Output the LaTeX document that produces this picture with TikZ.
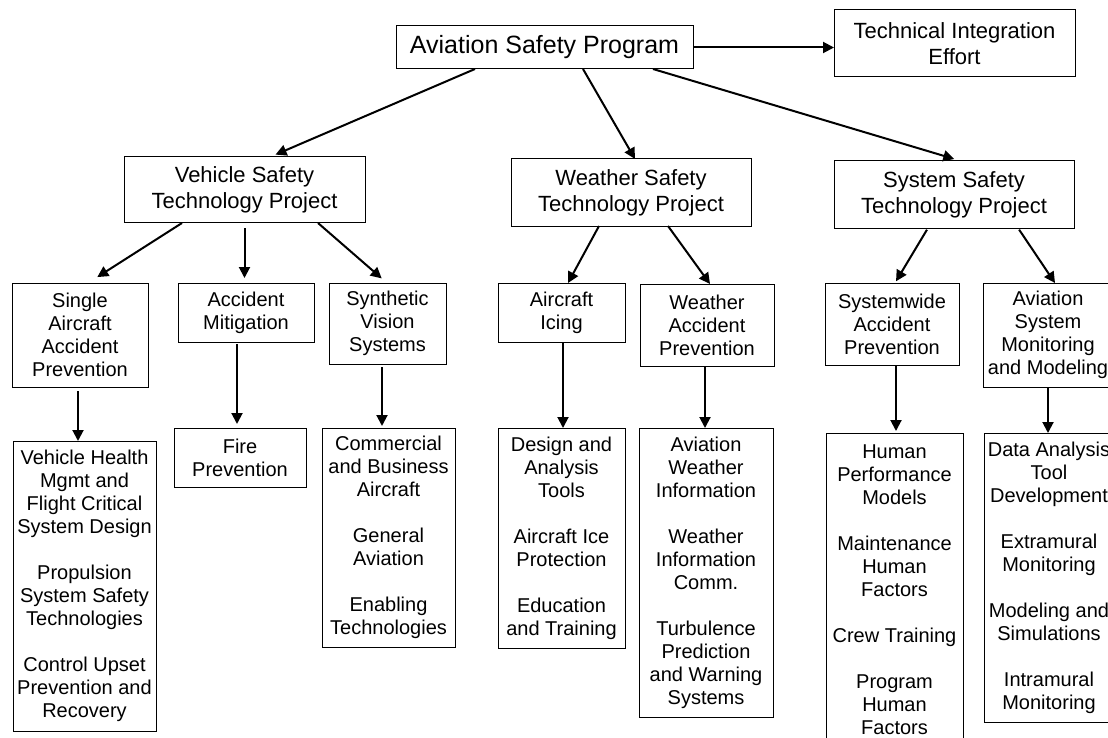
\documentclass[tikz,border=0pt]{standalone}
\usepackage{fontspec}
\setmainfont{Liberation Sans}
\usepackage{tikz}
\usetikzlibrary{arrows.meta, positioning, calc}

\newcommand{\itemgap}{\\[23pt]}

\begin{document}
\begin{tikzpicture}[
  x=1pt, y=-1pt,
  tbox/.style={draw, line width=1pt, inner sep=0pt, outer sep=0pt, align=center},
  topbox/.style={tbox, font=\fontsize{25}{30}\selectfont},
  projbox/.style={tbox, font=\fontsize{22}{25.7}\selectfont},
  elbox/.style={tbox, font=\fontsize{20}{23}\selectfont},
  link/.style={line width=2pt, -{Triangle[length=11pt, width=11pt]}}
]
  \useasboundingbox (0,0) rectangle (1108,738);
  \clip (0,0) rectangle (1108,738);

  % program and projects
  \node[topbox, minimum width=297pt, minimum height=43pt] (prog) at (544.5,47.5) {Aviation Safety Program};
  \node[projbox, minimum width=241pt, minimum height=67pt] (tie) at (954.5,43.5) {Technical Integration\\Effort};
  \node[projbox, minimum width=241pt, minimum height=66pt] (vehicle) at (244.5,190) {Vehicle Safety\\Technology Project};
  \node[projbox, minimum width=240pt, minimum height=67pt] (weather) at (631,192.5) {Weather Safety\\Technology Project};
  \node[projbox, minimum width=240pt, minimum height=67pt] (system) at (954,194.5) {System Safety\\Technology Project};

  % elements
  \node[elbox, minimum width=136pt, minimum height=104pt] (single) at (80,335) {Single\\Aircraft\\Accident\\Prevention};
  \node[elbox, minimum width=136pt, minimum height=59pt] (mitig) at (246,312.5) {Accident\\Mitigation};
  \node[elbox, minimum width=117pt, minimum height=81pt] (synvis) at (387.5,323.5) {Synthetic\\Vision\\Systems};
  \node[elbox, minimum width=127pt, minimum height=59pt] (icing) at (561.5,312.5) {Aircraft\\Icing};
  \node[elbox, minimum width=134pt, minimum height=82pt] (wxacc) at (707,325) {Weather\\Accident\\Prevention};
  \node[elbox, minimum width=134pt, minimum height=82pt] (sysacc) at (892,324) {Systemwide\\Accident\\Prevention};
  \node[elbox, minimum width=130pt, minimum height=104pt] (asmm) at (1048,335) {Aviation\\System\\Monitoring\\and Modeling};

  % research areas
  \node[elbox, minimum width=143pt, minimum height=290pt] (vhm) at (84.5,586)
    {Vehicle Health\\Mgmt and\\Flight Critical\\System Design\itemgap
     Propulsion\\System Safety\\Technologies\itemgap
     Control Upset\\Prevention and\\Recovery};
  \node[elbox, minimum width=132pt, minimum height=59pt] (fire) at (240,457.5) {Fire\\Prevention};
  \node[elbox, minimum width=133pt, minimum height=219pt] (comm) at (388.5,537.5)
    {Commercial\\and Business\\Aircraft\itemgap
     General\\Aviation\itemgap
     Enabling\\Technologies};
  \node[elbox, minimum width=127pt, minimum height=220pt] (design) at (561.5,538)
    {Design and\\Analysis\\Tools\itemgap
     Aircraft Ice\\Protection\itemgap
     Education\\and Training};
  \node[elbox, minimum width=134pt, minimum height=289pt] (avwx) at (706,572.5)
    {Aviation\\Weather\\Information\itemgap
     Weather\\Information\\Comm.\itemgap
     Turbulence\\Prediction\\and Warning\\Systems};
  \node[elbox, minimum width=137pt, minimum height=314pt] (human) at (894.5,590)
    {Human\\Performance\\Models\itemgap
     Maintenance\\Human\\Factors\itemgap
     Crew Training\itemgap
     Program\\Human\\Factors};
  \node[elbox, minimum width=130pt, minimum height=289pt] (data) at (1049,577.5)
    {Data Analysis\\Tool\\Development\itemgap
     Extramural\\Monitoring\itemgap
     Modeling and\\Simulations\itemgap
     Intramural\\Monitoring};

  % connectors
  \draw[link] (prog.east) -- (prog.east -| tie.west);
  \draw[link, shorten >=6pt] ([xshift=-69.5pt]prog.south) -- ([xshift=25.5pt]vehicle.north);
  \draw[link] ([xshift=38.5pt]prog.south) -- ([xshift=4pt]weather.north);
  \draw[link, shorten >=7pt] ([xshift=108.5pt]prog.south) -- ([xshift=7pt]system.north);

  \draw[link, shorten >=11pt] ([xshift=-62.5pt]vehicle.south) -- ([xshift=8pt]single.north);
  \draw[link, shorten <=5pt, shorten >=5pt] (vehicle.south) -- (vehicle.south |- mitig.north);
  \draw[link, shorten >=7pt] ([xshift=73.5pt]vehicle.south) -- ([xshift=-0.5pt]synvis.north);
  \draw[link] ([xshift=-32pt]weather.south) -- ([xshift=6.5pt]icing.north);
  \draw[link] ([xshift=37pt]weather.south) -- ([xshift=3pt]wxacc.north);
  \draw[link, shorten <=2pt, shorten >=2pt] ([xshift=-26pt]system.south) -- ([xshift=3pt]sysacc.north);
  \draw[link, shorten <=2pt] ([xshift=64pt]system.south) -- ([xshift=7pt]asmm.north);

  \draw[link, shorten <=4pt] ([xshift=-2pt]single.south) -- ([xshift=-2pt]single.south |- vhm.north);
  \draw[link, shorten <=2pt, shorten >=4pt] ([xshift=-9pt]mitig.south) -- ([xshift=-9pt]mitig.south |- fire.north);
  \draw[link, shorten <=3pt, shorten >=2pt] ([xshift=-5.5pt]synvis.south) -- ([xshift=-5.5pt]synvis.south |- comm.north);
  \draw[link] ([xshift=1.5pt]icing.south) -- ([xshift=1.5pt]icing.south |- design.north);
  \draw[link] ([xshift=-2pt]wxacc.south) -- ([xshift=-2pt]wxacc.south |- avwx.north);
  \draw[link, shorten >=2pt] ([xshift=4pt]sysacc.south) -- ([xshift=4pt]sysacc.south |- human.north);
  \draw[link] (asmm.south) -- (asmm.south |- data.north);
\end{tikzpicture}
\end{document}
